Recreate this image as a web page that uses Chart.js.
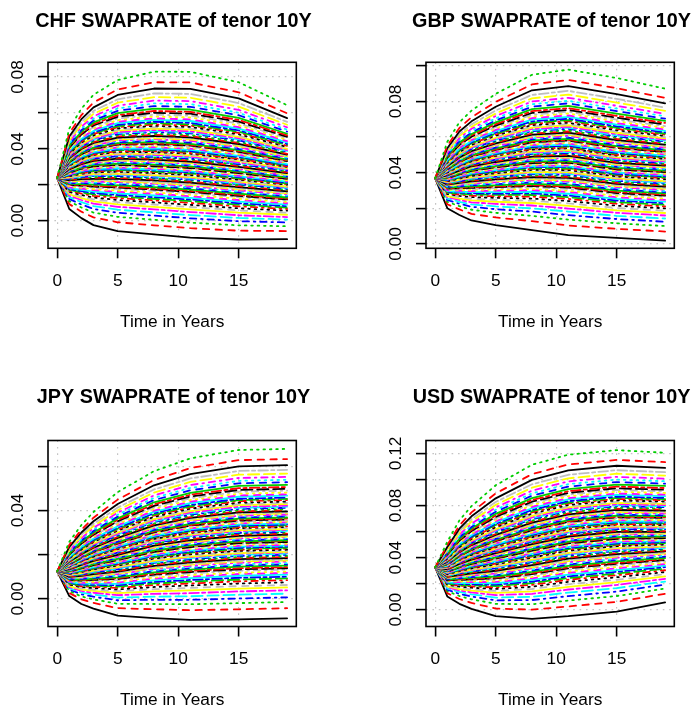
<!DOCTYPE html>
<html>
<head>
<meta charset="utf-8">
<title>SWAPRATE of tenor 10Y</title>
<script src="https://cdn.jsdelivr.net/npm/chart.js@4.4.1/dist/chart.umd.min.js"></script>
<style>
  html, body { margin: 0; padding: 0; background: #fff; }
  #page { position: relative; width: 694px; height: 708px; overflow: hidden; }
  #page canvas { position: absolute; }
</style>
</head>
<body>
<div id="page">
  <canvas id="chf" width="347" height="360" style="left:0;top:0"></canvas>
  <canvas id="gbp" width="347" height="360" style="left:378px;top:0"></canvas>
  <canvas id="jpy" width="347" height="360" style="left:0;top:354px"></canvas>
  <canvas id="usd" width="347" height="360" style="left:378px;top:354px"></canvas>
</div>
<script>
// simulation dates (years) and x axis ticks
const years = [0, 1, 2, 3, 5, 8, 11, 15, 19];
const xTicks = [0, 5, 10, 15];

// quantiles 1%..99% of the simulated 10Y swap rate, in basis points.
// one row per date after t=0, every path starts from the same spot rate
const chfStart = 237;
const chfBp = [
  [65,92,109,121,131,139,147,154,160,166,171,176,181,185,189,194,198,201,205,208,211,215,218,221,225,228,230,233,236,239,241,244,247,250,252,254,257,259,262,265,267,270,272,275,277,279,281,284,286,289,292,294,297,299,301,303,306,308,311,313,316,319,321,324,326,328,331,334,337,339,342,345,348,350,353,357,360,363,367,370,373,377,380,384,389,393,397,402,407,412,418,424,431,439,447,457,469,486,513],
  [14,50,73,90,103,115,125,134,143,151,158,164,171,178,183,189,195,198,204,209,213,218,222,226,231,235,239,243,247,251,253,257,261,265,268,272,276,278,282,286,289,293,295,299,302,306,309,312,315,319,323,326,329,332,336,339,343,345,349,352,356,360,362,366,370,373,377,381,385,387,391,395,399,403,407,412,416,420,425,429,434,440,443,449,455,460,467,474,480,487,495,504,513,523,535,548,565,588,624],
  [-25,18,45,65,81,95,107,118,129,138,146,154,162,170,176,184,190,194,201,207,212,218,223,227,233,238,243,248,252,257,260,265,269,274,277,282,287,290,294,299,302,307,310,315,318,322,326,330,333,338,343,346,350,354,358,361,366,369,374,377,382,386,389,394,399,402,407,411,416,419,424,428,433,438,443,449,453,458,464,469,475,482,486,492,500,506,514,522,530,538,547,558,569,581,595,611,631,658,701],
  [-58,-9,21,44,61,77,91,103,115,126,135,143,152,161,168,177,184,189,196,203,208,215,220,226,233,238,243,248,254,259,262,268,273,278,282,287,292,296,301,306,310,315,318,324,327,332,336,341,345,350,356,359,365,369,374,378,383,387,393,397,402,408,411,417,423,426,432,437,443,447,452,458,463,469,475,482,488,493,501,506,514,521,527,534,543,551,560,569,579,588,599,612,625,640,657,676,700,731,783],
  [-77,-26,5,28,46,63,77,90,102,113,122,131,140,150,157,166,173,178,186,193,198,206,211,216,224,229,235,240,245,251,254,260,265,271,274,280,285,289,294,300,303,309,312,318,321,327,331,336,340,345,351,355,362,366,372,376,382,387,393,397,403,409,414,420,426,430,437,443,449,453,459,466,472,478,484,493,499,505,513,520,528,536,543,551,561,570,580,590,601,611,624,638,653,669,688,709,736,771,830],
  [-94,-42,-11,13,31,48,63,76,88,99,109,118,127,136,144,153,160,166,173,180,186,193,199,204,212,217,223,228,234,239,243,249,254,260,263,269,274,278,283,289,293,298,302,307,311,317,320,326,329,335,341,346,352,356,363,367,373,377,384,388,394,401,405,411,418,422,428,435,441,445,452,458,464,471,477,486,492,498,507,513,522,530,536,545,555,564,575,585,596,606,619,634,649,666,685,706,734,770,829],
  [-105,-56,-26,-3,15,30,45,57,69,80,89,97,106,115,122,131,138,143,150,157,162,169,175,180,187,192,198,203,208,213,217,222,228,233,236,242,247,250,256,261,265,270,273,279,282,287,291,296,300,305,311,315,321,325,331,335,341,345,351,355,361,367,371,377,383,387,393,399,405,409,415,421,427,433,439,447,453,459,467,473,481,489,495,503,513,521,531,541,551,561,573,587,601,617,635,655,681,715,771],
  [-103,-58,-31,-10,6,20,33,44,56,65,73,81,89,97,104,112,118,123,129,136,140,147,152,156,163,168,172,177,182,187,190,195,200,204,208,212,217,220,225,230,233,238,241,246,249,254,257,262,265,270,275,278,283,286,291,294,299,302,307,310,315,320,323,328,332,336,340,345,350,353,358,363,368,372,377,384,388,393,400,404,411,417,422,428,436,443,451,459,467,475,484,496,507,520,534,550,571,598,643]
];
const chfTicks = [0, 0.02, 0.04, 0.06, 0.08];

const gbpStart = 368;
const gbpBp = [
  [201,223,237,247,255,262,269,274,280,285,289,293,297,301,304,308,311,313,317,320,322,325,328,330,333,336,338,341,343,345,347,349,352,354,356,358,361,362,365,367,369,371,373,375,377,379,381,383,385,387,389,391,393,395,397,399,401,403,405,407,409,412,413,416,418,420,422,425,427,429,431,433,436,438,441,444,446,449,452,454,457,461,463,466,470,473,477,481,485,489,494,500,505,512,519,527,537,551,573],
  [163,194,212,226,237,247,255,263,270,277,282,288,293,298,303,308,312,316,320,324,328,332,335,338,343,346,349,352,356,359,361,364,367,371,373,376,379,382,385,388,390,393,396,399,401,404,406,410,412,415,418,421,424,427,430,432,436,438,441,444,447,451,453,456,460,462,466,469,473,475,478,482,485,489,492,497,500,504,508,512,516,521,524,529,535,539,545,551,556,562,569,577,585,594,605,616,631,651,683],
  [132,169,192,209,222,234,245,254,263,271,278,284,291,297,303,309,315,319,324,329,333,338,342,346,352,356,359,363,367,371,374,378,382,386,389,392,396,399,403,407,410,414,416,420,423,427,429,433,436,440,444,447,451,453,457,460,464,466,470,473,477,481,484,488,491,494,498,502,506,509,513,517,521,524,528,534,538,542,547,551,556,561,565,571,577,583,589,596,602,609,617,626,635,646,658,671,688,711,748],
  [106,149,175,195,211,225,237,248,259,268,276,283,291,299,305,313,319,323,329,336,340,346,351,356,362,366,371,376,380,385,388,393,397,402,405,410,414,417,422,426,430,434,437,442,445,450,453,457,460,465,470,473,478,481,486,489,494,497,502,506,510,515,518,523,528,531,536,541,546,549,554,559,564,569,574,580,585,590,596,601,608,614,619,625,633,640,648,656,664,672,682,693,705,718,732,749,770,797,842],
  [78,128,158,182,200,216,230,243,255,266,275,284,293,302,309,318,325,330,337,345,350,357,363,368,375,380,386,391,397,402,405,411,416,422,425,431,436,440,445,450,454,459,463,468,472,477,481,486,490,495,501,505,511,515,520,524,530,534,540,544,550,555,559,565,571,575,581,587,593,596,602,608,614,620,626,633,639,645,653,659,667,674,680,688,698,706,715,725,735,745,756,770,784,799,817,836,862,895,949],
  [50,104,137,162,182,199,214,228,241,253,263,272,282,292,299,309,317,322,330,338,344,351,357,363,371,376,382,388,394,400,403,409,415,421,425,431,436,440,446,452,456,461,465,471,475,481,485,490,494,500,506,510,516,521,527,531,537,541,547,551,557,564,568,574,580,584,590,596,603,607,613,619,625,631,637,646,652,658,666,672,680,689,695,703,713,721,732,742,752,762,775,789,803,820,838,859,885,920,978],
  [34,85,116,140,158,175,189,202,215,226,235,244,253,262,270,279,286,292,299,306,312,319,325,330,337,343,348,354,359,365,368,374,379,385,389,394,400,403,409,414,418,423,427,433,436,442,445,451,455,460,466,470,476,480,486,490,496,500,506,511,517,523,527,533,539,543,549,555,561,565,571,577,583,589,595,603,609,616,624,630,638,646,652,660,670,678,688,698,708,719,731,745,759,775,793,814,840,874,931],
  [19,70,101,125,143,160,174,187,200,211,220,229,238,247,255,264,271,277,284,291,297,304,310,315,322,328,333,339,344,350,353,359,364,370,374,379,385,388,394,399,403,408,412,418,421,427,430,436,440,445,450,454,460,463,469,472,478,482,487,491,496,502,505,511,516,520,526,531,537,540,546,551,557,562,568,575,580,586,593,599,606,613,619,626,635,643,652,661,670,679,690,703,716,730,747,765,789,820,871]
];
const gbpTicks = [0, 0.02, 0.04, 0.06, 0.08, 0.10];

const jpyStart = 124;
const jpyBp = [
  [12,26,35,42,48,52,57,60,64,67,70,72,75,78,80,83,85,86,88,90,92,94,96,97,99,101,103,104,106,107,108,110,112,113,114,116,118,119,120,122,123,124,125,127,128,130,131,132,133,135,137,138,139,140,142,143,145,146,147,148,150,151,152,154,156,157,158,160,162,163,164,166,167,169,171,173,174,176,178,180,182,184,185,187,190,192,195,198,200,203,206,210,213,218,222,228,235,244,258],
  [-24,-3,10,20,28,35,41,46,52,56,60,64,68,72,75,79,82,84,87,90,93,96,98,100,103,106,108,110,113,115,116,119,121,123,125,127,130,131,133,136,137,140,141,143,145,147,149,151,153,155,157,159,161,163,165,167,169,170,173,174,177,179,180,183,185,187,189,191,194,195,197,200,202,204,207,210,212,214,217,220,223,226,228,231,235,238,242,246,250,254,258,264,269,275,282,290,300,313,334],
  [-45,-19,-3,9,19,27,35,41,48,54,58,63,68,72,76,81,85,88,91,95,98,102,104,107,111,114,117,119,122,125,127,130,133,135,137,140,143,145,148,150,152,155,157,160,162,165,166,169,171,174,177,179,182,183,186,188,191,193,196,198,200,203,205,208,211,213,215,218,221,223,226,229,231,234,237,241,244,246,250,253,257,260,263,267,272,276,280,285,290,294,300,307,313,321,329,339,351,367,393],
  [-77,-43,-23,-7,5,16,25,34,42,49,55,61,67,73,78,84,89,93,97,102,106,111,114,118,123,126,130,133,137,141,143,147,150,154,156,160,163,166,169,173,175,179,181,185,187,191,193,197,199,203,207,209,213,215,219,221,225,227,231,233,237,240,243,246,250,252,256,259,263,265,269,273,276,280,283,288,292,295,300,304,309,313,317,322,328,333,339,345,351,357,364,372,381,390,401,413,429,449,483],
  [-88,-48,-24,-5,9,22,33,43,53,62,69,76,83,91,96,103,109,113,119,125,129,135,139,143,149,153,158,162,166,171,173,178,182,186,189,194,198,201,205,209,212,216,219,224,226,231,234,238,241,245,249,252,256,259,264,266,271,274,278,281,285,289,292,296,301,304,308,312,317,319,324,328,332,337,341,347,351,355,361,365,371,377,381,387,394,399,407,414,421,428,437,447,457,468,481,495,514,538,578],
  [-96,-52,-25,-5,11,25,38,49,60,69,77,85,93,100,107,115,121,126,132,138,143,149,154,159,165,170,174,179,184,188,191,196,201,206,209,213,218,221,226,231,234,239,242,246,250,254,257,262,265,270,275,278,283,286,290,294,298,301,306,309,314,319,322,327,331,334,339,344,349,352,356,361,366,370,375,381,386,391,397,402,408,414,419,425,433,440,447,455,463,471,480,491,502,515,529,545,565,592,636],
  [-94,-48,-20,1,18,33,46,57,69,79,87,95,104,112,118,127,133,138,145,151,156,163,168,173,179,184,189,194,199,204,207,212,217,222,226,231,236,239,244,249,252,257,260,265,269,273,277,282,285,290,295,298,303,307,311,315,320,323,328,331,336,341,344,349,354,358,363,368,373,376,381,386,391,396,401,407,412,417,424,429,435,442,447,453,462,468,476,485,493,501,511,523,534,547,562,579,600,628,674],
  [-89,-43,-15,6,23,38,51,62,74,84,92,100,109,117,123,132,138,143,150,156,161,168,173,178,184,189,194,199,204,209,212,217,222,227,231,236,241,244,249,254,257,262,265,270,274,278,282,287,290,295,300,303,308,312,316,320,325,328,333,336,341,346,349,354,359,363,368,373,378,381,386,391,396,401,406,412,417,422,429,434,440,447,452,458,467,473,481,490,498,506,516,528,539,552,567,584,605,633,679]
];
const jpyTicks = [0, 0.02, 0.04, 0.06];

const usdStart = 325;
const usdBp = [
  [102,127,143,154,163,172,179,185,191,197,201,206,210,215,218,223,226,229,233,236,239,243,245,248,252,254,257,260,262,265,267,270,272,275,277,280,282,284,287,289,291,294,296,298,300,303,305,307,309,312,315,317,319,321,324,326,328,330,333,335,337,340,342,344,347,349,352,354,357,359,362,364,367,370,372,376,379,381,385,388,391,395,398,401,406,409,414,418,423,427,433,439,445,452,461,470,481,497,522],
  [45,82,105,122,136,148,158,167,177,185,191,198,205,211,217,223,229,233,238,243,247,253,257,261,266,270,274,278,282,286,288,292,296,300,303,307,311,314,318,322,324,328,331,335,338,342,344,348,351,355,359,362,366,369,373,376,381,383,388,391,395,399,402,406,410,413,417,422,426,429,433,437,442,446,450,456,460,464,470,474,480,486,490,496,503,508,515,523,530,537,545,555,565,577,589,604,622,646,686],
  [6,52,80,101,118,133,146,157,169,179,187,195,204,212,218,227,233,238,245,251,256,263,268,273,279,284,289,294,299,304,307,312,317,322,326,331,336,339,344,349,352,357,360,365,369,373,377,382,385,390,395,399,404,407,413,416,421,425,430,434,439,444,447,453,458,461,467,472,477,480,486,491,496,501,507,514,519,524,531,536,543,550,555,562,571,578,587,595,604,613,623,635,648,661,677,695,717,747,795],
  [-49,9,45,72,93,112,129,144,159,171,182,192,203,213,222,232,240,247,255,264,270,278,285,291,299,306,312,318,324,331,335,341,348,354,358,364,371,375,381,387,392,398,402,408,413,419,423,429,434,440,447,451,458,462,469,473,480,484,491,495,502,509,513,520,526,531,537,544,551,555,562,568,575,581,588,597,604,610,619,626,634,643,650,659,670,679,690,701,712,723,736,752,767,785,805,827,855,893,955],
  [-70,0,42,74,99,122,141,159,176,191,204,216,229,241,251,263,273,281,291,301,308,318,326,333,343,351,358,366,373,381,385,393,400,408,413,420,428,433,440,448,453,460,465,473,478,485,490,498,503,510,518,523,531,536,544,549,557,562,570,575,583,590,595,603,611,616,624,632,640,645,652,660,668,676,684,694,702,709,720,728,738,748,756,766,779,790,803,816,829,842,857,875,893,914,937,963,997,1041,1113],
  [-50,25,70,104,131,155,176,195,214,230,243,256,269,283,293,307,317,325,336,347,355,365,373,381,392,400,408,416,424,432,437,445,453,461,466,474,482,488,496,503,509,517,522,530,535,543,549,557,562,570,578,583,591,597,605,610,618,623,631,637,644,652,658,666,674,679,687,695,703,708,716,724,732,740,748,759,767,775,785,793,804,815,823,833,847,857,871,884,897,910,926,945,964,985,1009,1036,1070,1115,1190],
  [-15,60,105,139,166,190,211,230,249,265,278,291,304,318,328,342,352,360,371,382,390,400,408,416,427,435,443,451,459,467,472,480,488,496,501,509,517,523,531,538,544,552,557,565,570,578,584,592,597,605,613,618,626,632,640,645,653,658,666,672,679,687,693,701,709,714,722,730,738,743,751,759,767,775,783,794,802,810,820,828,839,850,858,868,882,892,906,919,932,945,961,980,999,1020,1044,1071,1105,1150,1225],
  [56,122,162,193,216,237,256,273,289,303,315,327,338,350,360,371,381,388,397,407,414,423,430,437,447,454,461,468,475,482,486,494,501,508,512,519,526,531,538,545,550,557,562,569,573,580,585,592,597,604,612,617,625,630,638,643,650,656,663,669,676,684,689,697,705,710,718,725,733,738,746,754,761,769,777,787,795,803,813,821,831,841,849,859,872,883,896,908,921,934,950,968,986,1006,1030,1056,1089,1133,1205]
];
const usdTicks = [0, 0.02, 0.04, 0.06, 0.08, 0.10, 0.12];

// matplot style: 8 colours and 6 line types cycling over the quantiles
const lineColors = ['#000000', '#FF0000', '#00CD00', '#0000FF', '#00FFFF', '#FF00FF', '#FFFF00', '#BEBEBE'];
const lineDashes = [[], [6.4, 6.4], [1.6, 4.8], [1.6, 4.8, 6.4, 4.8], [11.2, 4.8], [3.2, 3.2, 9.6, 3.2]];

const FONT = "'Liberation Sans', Arial, Helvetica, sans-serif";
const axisFont = { family: FONT, size: 17.3, lineHeight: 1.2 };
const titleSize = 19.8;

function quantileSets(start, rows) {
  const sets = [];
  // highest quantile first so that it ends up painted on top
  for (let k = rows[0].length - 1; k >= 0; k--) {
    const pts = [{ x: years[0], y: start / 1e4 }];
    rows.forEach((row, j) => pts.push({ x: years[j + 1], y: row[k] / 1e4 }));
    sets.push({
      label: (k + 1) + '%',
      data: pts,
      borderColor: lineColors[k % 8],
      borderDash: lineDashes[k % 6],
      borderWidth: 1.8,
      borderCapStyle: 'round',
      borderJoinStyle: 'round',
      pointRadius: 0,
      tension: 0,
      fill: false
    });
  }
  return sets;
}

// black frame round the plot region
const boxFrame = {
  id: 'boxFrame',
  afterDatasetsDraw(chart) {
    const { ctx, chartArea: a } = chart;
    ctx.save();
    ctx.strokeStyle = '#000';
    ctx.lineWidth = 1.6;
    ctx.strokeRect(a.left, a.top, a.right - a.left, a.bottom - a.top);
    ctx.restore();
  }
};

const gridOpts = { color: '#C4C4C4', lineWidth: 1.2, tickLength: 10, tickColor: '#000', tickWidth: 1.6 };

function makePanel(id, title, start, rows, yTicks, yMin, yMax, boxTop, titleMid) {
  const boxBottom = boxTop + 186;
  const lh = titleSize * 1.2;
  new Chart(document.getElementById(id), {
    type: 'line',
    data: { datasets: quantileSets(start, rows) },
    plugins: [boxFrame],
    options: {
      responsive: false,
      animation: false,
      devicePixelRatio: 1,
      events: [],
      layout: { padding: 0 },
      plugins: {
        legend: { display: false },
        tooltip: { enabled: false },
        title: {
          display: true,
          text: title,
          color: '#000',
          font: { family: FONT, size: titleSize, weight: 'bold', lineHeight: 1.2 },
          padding: { top: titleMid - lh / 2, bottom: boxTop - titleMid - lh / 2 }
        }
      },
      scales: {
        x: {
          type: 'linear',
          min: -0.76,
          max: 19.76,
          afterBuildTicks: s => { s.ticks = xTicks.map(v => ({ value: v })); },
          afterFit: s => { s.height = 360 - boxBottom; },
          grid: gridOpts,
          border: { display: false, dash: [1.6, 4.8] },
          ticks: { color: '#000', font: axisFont, padding: 12.6, maxRotation: 0, autoSkip: false },
          title: {
            display: true,
            text: 'Time in Years',
            color: '#000',
            font: axisFont,
            padding: { top: 0, bottom: 360 - boxBottom - 73.5 - axisFont.size * 0.6 }
          }
        },
        y: {
          type: 'linear',
          min: yMin,
          max: yMax,
          afterBuildTicks: s => { s.ticks = yTicks.map(v => ({ value: v })); },
          afterFit: s => { s.width = 48; },
          grid: gridOpts,
          border: { display: false, dash: [1.6, 4.8] },
          ticks: {
            color: '#000',
            font: axisFont,
            padding: 3,
            autoSkip: false,
            minRotation: 90,
            maxRotation: 90,
            crossAlign: 'center',
            callback: v => (Math.round(v * 100) % 4 === 0 ? v.toFixed(2) : '')
          }
        },
        yPad: {
          type: 'linear',
          position: 'right',
          afterFit: s => { s.width = 347 - 296.3; },
          grid: { display: false },
          ticks: { display: false },
          border: { display: false }
        }
      }
    }
  });
}

makePanel('chf', 'CHF SWAPRATE of tenor 10Y', chfStart, chfBp, chfTicks, -0.0154, 0.0882, 62.3, 21.7);
makePanel('gbp', 'GBP SWAPRATE of tenor 10Y', gbpStart, gbpBp, gbpTicks, -0.0024, 0.1019, 62.3, 21.7);
makePanel('jpy', 'JPY SWAPRATE of tenor 10Y', jpyStart, jpyBp, jpyTicks, -0.0126, 0.0717, 86.5, 43.5);
makePanel('usd', 'USD SWAPRATE of tenor 10Y', usdStart, usdBp, usdTicks, -0.0129, 0.1299, 86.5, 43.5);
</script>
</body>
</html>
